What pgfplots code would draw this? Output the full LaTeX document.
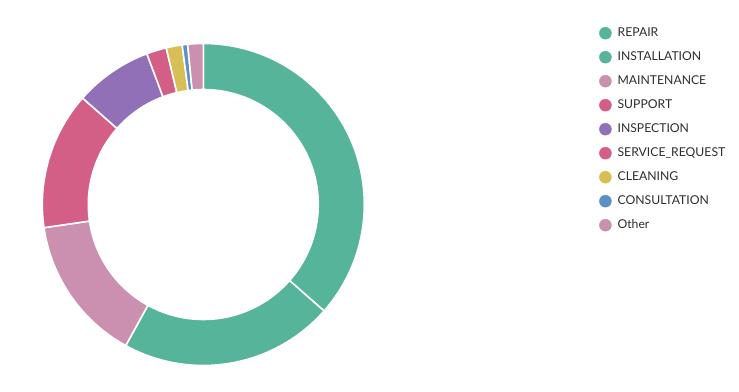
\documentclass[border=0pt]{standalone}
\usepackage{pgfplots}
\pgfplotsset{compat=1.18}
\usepackage{pgfplotstable}
\usepackage{fontspec}
\setmainfont{Lato}
\definecolor{cGreen}{RGB}{85,180,153}
\definecolor{cMauve}{RGB}{203,143,175}
\definecolor{cRose}{RGB}{211,95,135}
\definecolor{cPurple}{RGB}{146,112,183}
\definecolor{cYellow}{RGB}{215,190,85}
\definecolor{cBlue}{RGB}{91,146,198}
\definecolor{txt}{RGB}{45,45,45}
\pgfplotstableread{
label value color
REPAIR 36.5 cGreen
INSTALLATION 21.5 cGreen
MAINTENANCE 14.7 cMauve
SUPPORT 13.8 cRose
INSPECTION 7.8 cPurple
SERVICE_REQUEST 2.0 cRose
CLEANING 1.6 cYellow
CONSULTATION 0.55 cBlue
Other 1.55 cMauve
}\datatable
\begin{document}
\begin{tikzpicture}
\begin{axis}[
  scale only axis, width=739pt, height=391pt,
  xmin=0, xmax=739, ymin=0, ymax=391,
  hide axis, clip=false,
  legend cell align=left,
  legend style={draw=none, fill=none, at={(axis cs:599,370)}, anchor=north west,
    font=\fontsize{12.2pt}{14pt}\selectfont, text=txt,
    row sep=0pt, inner sep=0pt,
    nodes={inner sep=0pt, text height=9pt, text depth=3pt, minimum height=24pt},
    /tikz/every odd column/.append style={column sep=6pt}},
  legend image code/.code={\fill[#1] (6pt,0pt) circle (6pt);},
]
\pgfplotsextra{
  \path (axis cs:0,0) rectangle (axis cs:739,391);
  \pgfplotstablegetrowsof{\datatable}\let\nrows\pgfplotsretval
  \pgfmathtruncatemacro\lastrow{\nrows-1}
  \gdef\cum{0}
  \foreach \i in {0,...,\lastrow}{
    \pgfplotstablegetelem{\i}{value}\of\datatable \let\v\pgfplotsretval
    \pgfplotstablegetelem{\i}{color}\of\datatable \let\c\pgfplotsretval
    \pgfmathsetmacro\aA{90-3.6*\cum}
    \pgfmathsetmacro\aB{90-3.6*(\cum+\v)}
    \pgfmathsetmacro\newcum{\cum+\v}
    \xdef\cum{\newcum}
    \filldraw[fill=\c, draw=white, line width=1.6pt, shift={(axis cs:203.3,186.5)}]
      (\aA:161pt) arc[start angle=\aA, end angle=\aB, radius=161pt]
      -- (\aB:115pt) arc[start angle=\aB, end angle=\aA, radius=115pt] -- cycle;
  }
}
\addlegendimage{cGreen}\addlegendentry{REPAIR}
\addlegendimage{cGreen}\addlegendentry{INSTALLATION}
\addlegendimage{cMauve}\addlegendentry{MAINTENANCE}
\addlegendimage{cRose}\addlegendentry{SUPPORT}
\addlegendimage{cPurple}\addlegendentry{INSPECTION}
\addlegendimage{cRose}\addlegendentry{SERVICE\_REQUEST}
\addlegendimage{cYellow}\addlegendentry{CLEANING}
\addlegendimage{cBlue}\addlegendentry{CONSULTATION}
\addlegendimage{cMauve}\addlegendentry{Other}
\end{axis}
\end{tikzpicture}
\end{document}
